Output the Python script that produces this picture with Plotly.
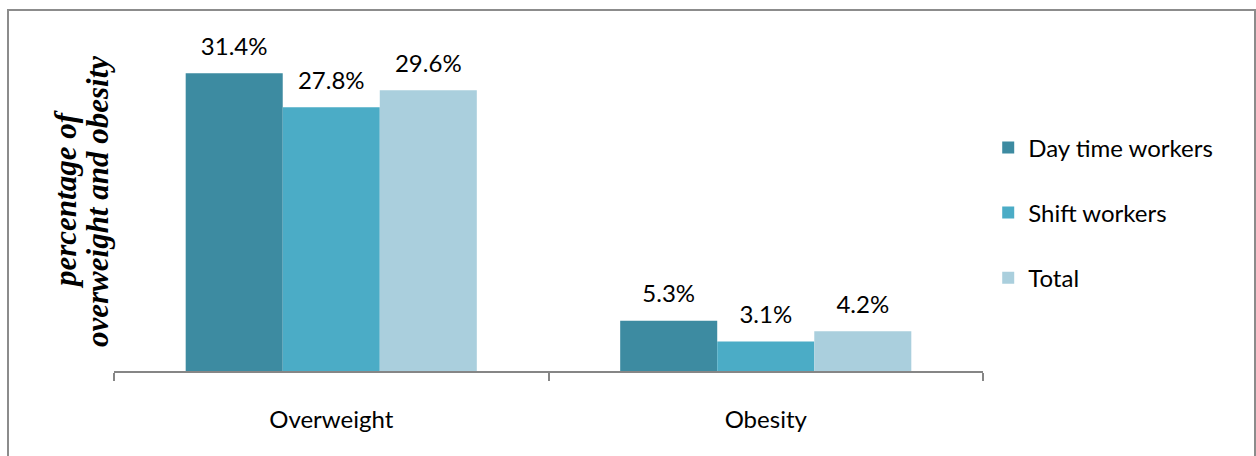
import plotly.graph_objects as go

# Chart data
categories = ["Overweight", "Obesity"]
series_names = ["Day time workers", "Shift workers", "Total"]
day_time = [31.4, 5.3]
shift = [27.8, 3.1]
total = [29.6, 4.2]
series_values = [day_time, shift, total]
colors = ["#3D8BA1", "#4BACC6", "#AACFDD"]

W, H = 1256, 456
M_L, M_R, M_T, M_B = 114, 273, 39, 85
plot_w = W - M_L - M_R
plot_h = H - M_T - M_B
GAP = 0.33
FONT = "Lato"
FS = 24

fig = go.Figure()

for i, (name, vals) in enumerate(zip(series_names, series_values)):
    fig.add_trace(go.Bar(
        x=categories, y=vals, name=name,
        marker=dict(color=colors[i], line=dict(width=0)),
        legendgroup=name, hoverinfo="skip",
    ))

# value labels above each bar, grouped the same way as the bars
for i, (name, vals) in enumerate(zip(series_names, series_values)):
    fig.add_trace(go.Scatter(
        x=categories, y=vals, mode="markers+text",
        text=[f"{v:.1f}%" for v in vals], textposition="top center",
        textfont=dict(family=FONT, size=FS, color="#000000"),
        marker=dict(size=18, opacity=0),
        showlegend=False, hoverinfo="skip", cliponaxis=False,
    ))

def px_x(px):
    return (px - M_L) / plot_w

def px_y(py):
    return (H - M_B - py) / plot_h

# outer chart border
fig.add_shape(type="rect", xref="paper", yref="paper",
              x0=px_x(8), x1=px_x(1255), y0=px_y(470), y1=px_y(10),
              line=dict(color="#8C8C8C", width=2), fillcolor="rgba(0,0,0,0)",
              layer="below")

# two-line rotated axis title
title_font = dict(family="Liberation Serif", size=31, color="#000000")
fig.add_annotation(text="<b><i>percentage of</i></b>", xref="paper", yref="paper",
                   x=px_x(65), y=px_y(200), textangle=-90, showarrow=False,
                   xanchor="center", yanchor="middle", font=title_font)
fig.add_annotation(text="<b><i>overweight and obesity</i></b>", xref="paper", yref="paper",
                   x=px_x(97), y=px_y(202), textangle=-90, showarrow=False,
                   xanchor="center", yanchor="middle", font=title_font)

fig.update_layout(
    width=W, height=H,
    margin=dict(l=M_L, r=M_R, t=M_T, b=M_B),
    paper_bgcolor="white", plot_bgcolor="white",
    barmode="group", bargap=GAP,
    scattermode="group", scattergap=GAP,
    font=dict(family=FONT, size=FS, color="#000000"),
    legend=dict(x=1.006, y=0.74, xanchor="left", yanchor="top",
                font=dict(family=FONT, size=FS, color="#000000"),
                tracegroupgap=31, bgcolor="rgba(0,0,0,0)"),
    xaxis=dict(showline=True, linecolor="#868686", linewidth=2,
               ticks="outside", tickson="boundaries", ticklen=8,
               tickcolor="#868686", tickwidth=2, showgrid=False,
               ticklabelstandoff=26,
               tickfont=dict(family=FONT, size=FS, color="#000000")),
    yaxis=dict(visible=False, range=[0, 35]),
    showlegend=True,
)

fig.write_html("out.html")
